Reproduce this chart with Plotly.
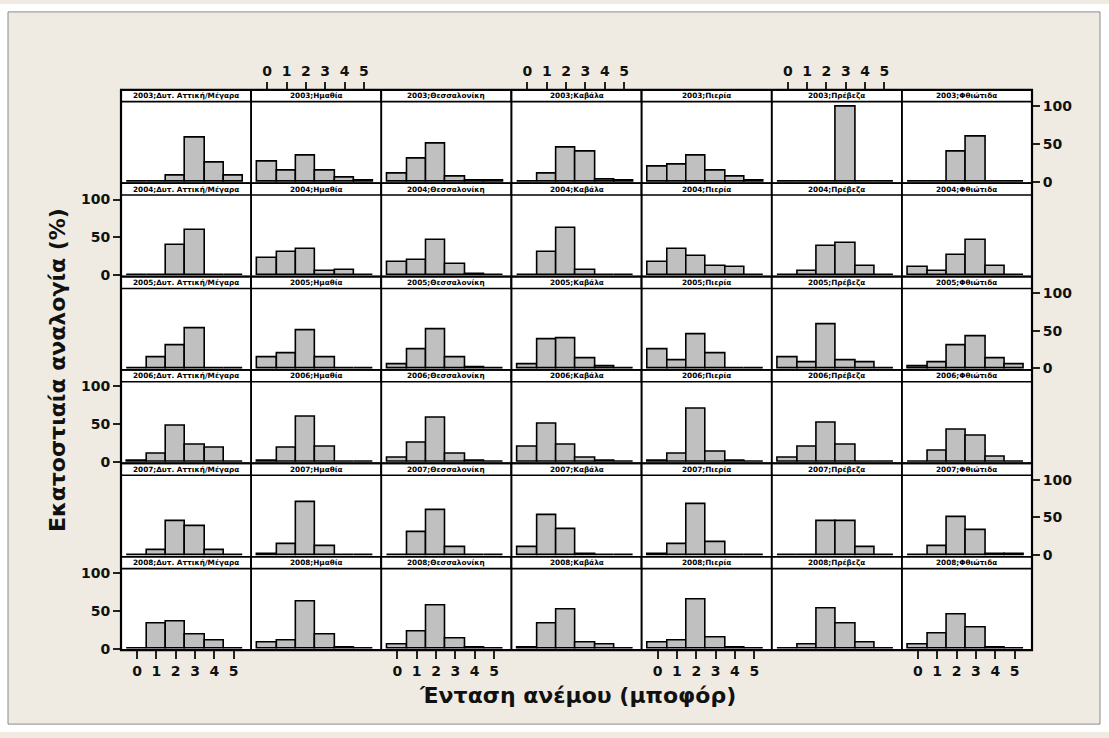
import plotly.graph_objects as go

W, H = 1109, 738

beaufort = [0, 1, 2, 3, 4, 5]
years = ["2003", "2004", "2005", "2006", "2007", "2008"]
regions = ["Δυτ. Αττική/Μέγαρα", "Ημαθία", "Θεσσαλονίκη", "Καβάλα",
           "Πιερία", "Πρέβεζα", "Φθιώτιδα"]

# percentage per Beaufort class, one list per region (same order as regions)
pct_2003 = [[0, 0, 8, 58, 25, 8], [27, 15, 35, 15, 5, 1], [10, 30, 50, 7, 2, 1],
            [0, 10, 45, 40, 3, 1], [20, 22, 35, 15, 7, 1], [0, 0, 0, 100, 0, 0],
            [0, 0, 40, 60, 0, 0]]
pct_2004 = [[0, 0, 40, 60, 0, 0], [22, 30, 35, 5, 7, 0], [17, 20, 47, 14, 2, 0],
            [0, 30, 62, 7, 0, 0], [17, 35, 25, 12, 10, 0], [0, 5, 38, 43, 12, 0],
            [10, 5, 27, 47, 12, 0]]
pct_2005 = [[0, 15, 30, 53, 0, 0], [15, 20, 50, 15, 0, 0], [5, 25, 52, 15, 2, 0],
            [5, 38, 40, 13, 3, 0], [25, 10, 45, 20, 0, 0], [15, 8, 58, 10, 8, 0],
            [3, 8, 30, 42, 13, 5]]
pct_2006 = [[1, 10, 48, 23, 18, 0], [2, 18, 60, 20, 0, 0], [5, 25, 58, 10, 1, 0],
            [20, 50, 23, 5, 1, 0], [2, 10, 70, 13, 2, 0], [5, 20, 52, 23, 0, 0],
            [0, 15, 43, 35, 7, 0]]
pct_2007 = [[0, 7, 45, 38, 7, 0], [2, 15, 70, 12, 0, 0], [0, 30, 60, 10, 0, 0],
            [10, 53, 35, 2, 0, 0], [2, 14, 67, 17, 0, 0], [0, 0, 45, 45, 10, 0],
            [0, 12, 50, 33, 2, 2]]
pct_2008 = [[0, 33, 36, 18, 11, 0], [8, 10, 62, 18, 2, 0], [5, 23, 57, 13, 2, 0],
            [2, 33, 52, 8, 5, 0], [8, 10, 65, 15, 2, 0], [0, 5, 53, 33, 8, 0],
            [5, 20, 45, 28, 2, 0]]
all_pct = [pct_2003, pct_2004, pct_2005, pct_2006, pct_2007, pct_2008]

# panel grid in pixels
GX0, GX1, GY0, GY1 = 121, 1032, 87, 655
STRIP = 12
ncol, nrow = len(regions), len(years)
pw = (GX1 - GX0) / ncol
ph = (GY1 - GY0) / nrow

FONT = "DejaVu Sans, Verdana, sans-serif"
BG = "#EFEBE2"
FRAME = (8, 8, 1100, 730)


def px(x):
    return x / W


def py(y):
    return 1 - y / H


fig = go.Figure()
shapes = []
annotations = []
layout_axes = {}

tickfont = dict(family=FONT, size=14, color="#111", weight="bold")

for r, year in enumerate(years):
    for c, region in enumerate(regions):
        n = r * ncol + c + 1
        sfx = "" if n == 1 else str(n)
        left, right = GX0 + c * pw, GX0 + (c + 1) * pw
        top, bottom = GY0 + r * ph, GY0 + (r + 1) * ph

        fig.add_trace(go.Bar(
            x=beaufort,
            y=all_pct[r][c],
            width=1,
            marker=dict(color="#C0C0C0", line=dict(color="black", width=1.6)),
            xaxis="x" + sfx,
            yaxis="y" + sfx,
            showlegend=False,
            hoverinfo="x+y",
        ))

        xa = dict(domain=[px(left), px(right)], range=[-0.83, 5.9],
                  anchor="y" + sfx, showgrid=False, zeroline=False,
                  showline=False, fixedrange=True, showticklabels=False,
                  ticks="")
        if r == nrow - 1 and c % 2 == 0:
            xa.update(ticks="outside", ticklen=8, tickwidth=2, tickcolor="#222",
                      showticklabels=True, tickvals=beaufort, tickfont=tickfont)
        if r == 0 and c % 2 == 1:
            xa.update(ticks="outside", ticklen=8, tickwidth=2, tickcolor="#222",
                      showticklabels=True, tickvals=beaufort, side="top",
                      anchor="free", position=py(top), tickfont=tickfont)

        ya = dict(domain=[py(bottom), py(top + STRIP)], range=[-2, 106],
                  anchor="x" + sfx, showgrid=False, zeroline=False,
                  showline=False, fixedrange=True, showticklabels=False,
                  ticks="")
        if r % 2 == 1 and c == 0:
            ya.update(ticks="outside", ticklen=7, tickwidth=2, tickcolor="#222",
                      showticklabels=True, tickvals=[0, 50, 100], tickfont=tickfont)
        if r % 2 == 0 and c == ncol - 1:
            ya.update(ticks="outside", ticklen=7, tickwidth=2, tickcolor="#222",
                      showticklabels=True, tickvals=[0, 50, 100], side="right",
                      tickfont=tickfont)

        layout_axes["xaxis" + sfx] = xa
        layout_axes["yaxis" + sfx] = ya

        # strip header
        shapes.append(dict(type="rect", xref="paper", yref="paper",
                           x0=px(left), x1=px(right), y0=py(top + STRIP), y1=py(top),
                           fillcolor="white", line=dict(color="black", width=1.6),
                           layer="above"))
        # panel frame
        shapes.append(dict(type="rect", xref="paper", yref="paper",
                           x0=px(left), x1=px(right), y0=py(bottom), y1=py(top),
                           line=dict(color="black", width=1.6), layer="above"))
        annotations.append(dict(
            x=px((left + right) / 2), y=py(top + STRIP / 2), xref="paper", yref="paper",
            text=f"<b>{year};{region}</b>", showarrow=False,
            font=dict(family=FONT, size=7.3, color="black"),
            xanchor="center", yanchor="middle"))

# outer plot border
shapes.append(dict(type="rect", xref="paper", yref="paper",
                   x0=px(GX0), x1=px(GX1), y0=py(GY1), y1=py(GY0),
                   line=dict(color="black", width=2.2), layer="above"))

# white surround outside the figure frame, then the frame line
fx0, fy0, fx1, fy1 = FRAME
for x0, y0, x1, y1 in [(0, 0, W, fy0), (0, fy1, W, H), (0, 0, fx0, H), (fx1, 0, W, H)]:
    shapes.append(dict(type="rect", xref="paper", yref="paper",
                       x0=px(x0), x1=px(x1), y0=py(y1), y1=py(y0),
                       fillcolor="white", line=dict(width=0), layer="above"))
shapes.append(dict(type="rect", xref="paper", yref="paper",
                   x0=px(fx0), x1=px(fx1), y0=py(fy1), y1=py(fy0),
                   line=dict(color="#8a8a8a", width=1), layer="above"))

annotations.append(dict(
    x=px(58), y=py(371), xref="paper", yref="paper",
    text="<b>Εκατοστιαία αναλογία (%)</b>", showarrow=False, textangle=-90,
    font=dict(family=FONT, size=22, color="#111"),
    xanchor="center", yanchor="middle"))
annotations.append(dict(
    x=px(577), y=py(701), xref="paper", yref="paper",
    text="<b>Ένταση ανέμου (μποφόρ)</b>", showarrow=False,
    font=dict(family=FONT, size=22, color="#111"),
    xanchor="center", yanchor="middle"))

fig.update_layout(
    width=W,
    height=H,
    autosize=False,
    margin=dict(l=0, r=0, t=0, b=0),
    paper_bgcolor=BG,
    plot_bgcolor="white",
    bargap=0,
    shapes=shapes,
    annotations=annotations,
    **layout_axes,
)

fig.write_html("out.html", config={"displayModeBar": False},
               post_script="document.body.style.margin = '0';")
